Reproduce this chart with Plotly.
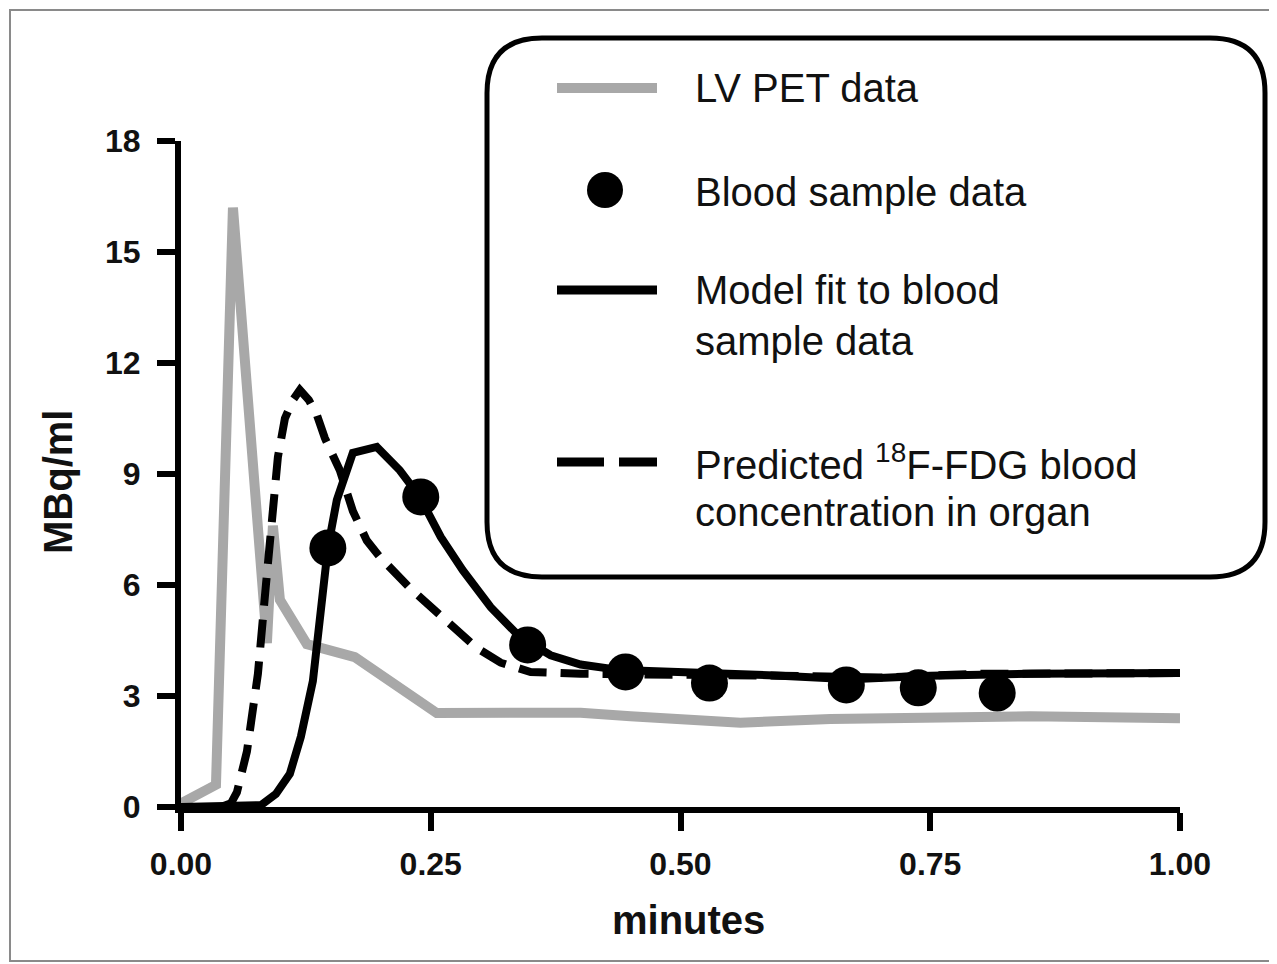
import plotly.graph_objects as go

# ---------------- data ----------------
lv_x = [0.0, 0.031, 0.035, 0.052, 0.086, 0.092, 0.099, 0.126, 0.149, 0.174, 0.256,
        0.30, 0.40, 0.45, 0.50, 0.56, 0.65, 0.75, 0.85, 1.0]
lv_y = [0.1, 0.6, 0.6, 16.2, 4.43, 7.6, 5.6, 4.4, 4.24, 4.05, 2.54,
        2.55, 2.55, 2.45, 2.35, 2.28, 2.38, 2.42, 2.45, 2.4]

fit_x = [0.0, 0.06, 0.08, 0.095, 0.109, 0.12, 0.132, 0.147, 0.156, 0.172, 0.196, 0.219,
         0.239, 0.26, 0.282, 0.31, 0.339, 0.37, 0.40, 0.44, 0.50, 0.55, 0.60, 0.67, 0.75,
         0.85, 1.0]
fit_y = [0.0, 0.0, 0.05, 0.35, 0.9, 1.9, 3.4, 7.0, 8.3, 9.57, 9.73, 9.1,
         8.38, 7.3, 6.4, 5.4, 4.6, 4.1, 3.85, 3.7, 3.65, 3.6, 3.55, 3.45, 3.55,
         3.6, 3.62]

pred_x = [0.0, 0.04, 0.05, 0.056, 0.066, 0.077, 0.085, 0.092, 0.097, 0.104, 0.112, 0.119,
          0.128, 0.136, 0.144, 0.159, 0.172, 0.186, 0.199, 0.229, 0.246, 0.279, 0.296,
          0.32, 0.35, 0.40, 0.50, 0.60, 0.70, 0.80, 1.0]
pred_y = [0.0, 0.0, 0.1, 0.4, 1.5, 3.6, 6.0, 8.3, 9.46, 10.5, 11.0, 11.27,
          11.0, 10.6, 9.97, 9.1, 8.0, 7.2, 6.76, 5.92, 5.5, 4.7, 4.3,
          3.9, 3.65, 3.6, 3.6, 3.55, 3.5, 3.6, 3.62]

blood_x = [0.147, 0.240, 0.347, 0.445, 0.529, 0.666, 0.738, 0.817]
blood_y = [7.0, 8.38, 4.38, 3.65, 3.35, 3.30, 3.22, 3.08]

x_ticks = [0.0, 0.25, 0.5, 0.75, 1.0]
y_ticks = [0, 3, 6, 9, 12, 15, 18]

legend_labels = ["LV PET data", "Blood sample data", "Model fit to blood", "sample data",
                 "Predicted <sup>18</sup>F-FDG blood", "concentration in organ"]

GRAY = "#a8a8a8"
FONT = "Liberation Sans, Arial, sans-serif"

# ---------------- figure ----------------
OFF = 8                      # page body margin
W, H = 1277 - OFF, 964 - OFF
L, T = 181 - OFF, 141 - OFF  # plot area (figure coordinates)
PW, PH = 999, 666
R, B = W - L - PW, H - T - PH


def px(xs):  # screen x -> paper
    return (xs - OFF - L) / PW


def py(ys):  # screen y -> paper
    return (T + PH - (ys - OFF)) / PH


fig = go.Figure()
fig.add_trace(go.Scatter(x=lv_x, y=lv_y, mode="lines",
                         line=dict(color=GRAY, width=10), showlegend=False))
fig.add_trace(go.Scatter(x=pred_x, y=pred_y, mode="lines",
                         line=dict(color="black", width=8, dash="28px,14px"), showlegend=False))
fig.add_trace(go.Scatter(x=fit_x, y=fit_y, mode="lines",
                         line=dict(color="black", width=8), showlegend=False))
fig.add_trace(go.Scatter(x=blood_x, y=blood_y, mode="markers",
                         marker=dict(color="black", size=37), showlegend=False))

shapes = []
# outer thin frame
shapes.append(dict(type="rect", xref="paper", yref="paper",
                   x0=px(10), x1=px(1274), y0=py(961), y1=py(10),
                   line=dict(color="#8a8a8a", width=2), layer="above"))

# rounded legend box
bx0, bx1, by0, by1 = px(487), px(1265), py(577), py(38)
rx, ry = 55 / PW, 55 / PH
path = (f"M {bx0+rx},{by1} L {bx1-rx},{by1} Q {bx1},{by1} {bx1},{by1-ry} "
        f"L {bx1},{by0+ry} Q {bx1},{by0} {bx1-rx},{by0} "
        f"L {bx0+rx},{by0} Q {bx0},{by0} {bx0},{by0+ry} "
        f"L {bx0},{by1-ry} Q {bx0},{by1} {bx0+rx},{by1} Z")
shapes.append(dict(type="path", xref="paper", yref="paper", path=path,
                   line=dict(color="black", width=5), layer="above"))

# legend glyphs
shapes.append(dict(type="line", xref="paper", yref="paper",
                   x0=px(557), x1=px(657), y0=py(88), y1=py(88),
                   line=dict(color=GRAY, width=10)))
shapes.append(dict(type="circle", xref="paper", yref="paper",
                   xsizemode="pixel", ysizemode="pixel",
                   xanchor=px(605), yanchor=py(190),
                   x0=-18, x1=18, y0=-18, y1=18,
                   fillcolor="black", line=dict(color="black", width=0)))
shapes.append(dict(type="line", xref="paper", yref="paper",
                   x0=px(557), x1=px(657), y0=py(290), y1=py(290),
                   line=dict(color="black", width=9)))
shapes.append(dict(type="line", xref="paper", yref="paper",
                   x0=px(557), x1=px(604), y0=py(462), y1=py(462),
                   line=dict(color="black", width=9)))
shapes.append(dict(type="line", xref="paper", yref="paper",
                   x0=px(619), x1=px(657), y0=py(462), y1=py(462),
                   line=dict(color="black", width=9)))

annotations = []
text_y = [88, 192, 290, 341, 462, 512]
for lab, ty in zip(legend_labels, text_y):
    annotations.append(dict(text=lab, xref="paper", yref="paper",
                            x=px(693), y=py(ty), xanchor="left", yanchor="middle",
                            showarrow=False,
                            font=dict(family=FONT, size=40, color="#111111")))

# axis titles
annotations.append(dict(text="<b>minutes</b>", xref="paper", yref="paper",
                        x=px(688), y=py(920), xanchor="center", yanchor="middle",
                        showarrow=False, font=dict(family=FONT, size=40, color="#111111")))
annotations.append(dict(text="<b>MBq/ml</b>", xref="paper", yref="paper",
                        x=px(58), y=py(482), xanchor="center", yanchor="middle",
                        textangle=-90, showarrow=False,
                        font=dict(family=FONT, size=40, color="#111111")))

fig.update_layout(
    width=W, height=H,
    margin=dict(l=L, r=R, t=T, b=B, pad=0),
    paper_bgcolor="white", plot_bgcolor="white",
    shapes=shapes, annotations=annotations,
    showlegend=False,
    xaxis=dict(range=[0, 1], tickvals=x_ticks, ticktext=[f"{v:.2f}" for v in x_ticks],
               showline=True, linecolor="black", linewidth=6,
               ticks="outside", ticklen=18, tickwidth=6, tickcolor="black",
               showgrid=False, zeroline=False, ticklabelstandoff=6,
               tickfont=dict(family=FONT, size=32, color="#111111", weight="bold")),
    yaxis=dict(range=[0, 18], tickvals=y_ticks, ticktext=[str(v) for v in y_ticks],
               showline=True, linecolor="black", linewidth=6,
               ticks="outside", ticklen=18, tickwidth=6, tickcolor="black",
               showgrid=False, zeroline=False, ticklabelstandoff=10,
               tickfont=dict(family=FONT, size=32, color="#111111", weight="bold")),
)

fig.write_html("out.html")
